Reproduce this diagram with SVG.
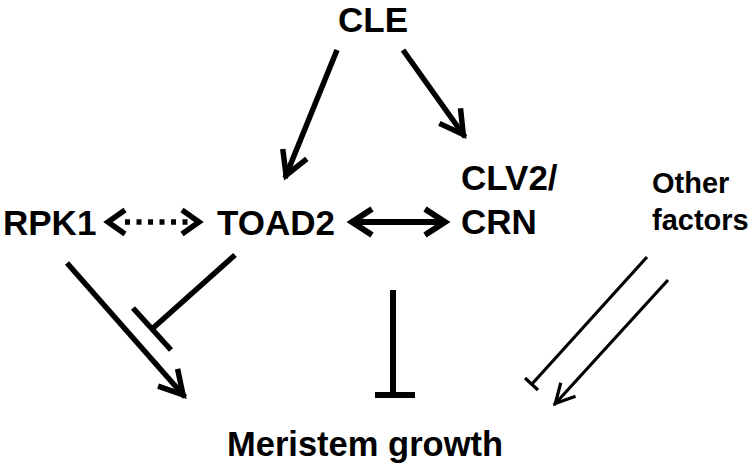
<svg xmlns="http://www.w3.org/2000/svg" width="752" height="471" viewBox="0 0 752 471">
<style>
text{font-family:"Liberation Sans",Arial,sans-serif;font-weight:bold;fill:#000}
.thick{stroke:#000;stroke-width:5.5;fill:none}
.thin{stroke:#000;stroke-width:3.2;fill:none}
.med{stroke:#000;stroke-width:6;fill:none}
</style>
<defs>
<marker id="ahBig" viewBox="-30 -20 40 40" refX="3" refY="0" markerWidth="40" markerHeight="40" markerUnits="userSpaceOnUse" orient="auto">
<path d="M-23,-13 L0,0 L-23,13" fill="none" stroke="#000" stroke-width="5.5"/>
</marker>
<marker id="ahThin" viewBox="-30 -20 40 40" refX="2" refY="0" markerWidth="40" markerHeight="40" markerUnits="userSpaceOnUse" orient="auto">
<path d="M-19,-10 L0,0 L-19,10" fill="none" stroke="#000" stroke-width="3.2"/>
</marker>
</defs>
<rect width="752" height="471" fill="#fff"/>
<g id="CLE"><text x="338" y="32" font-size="35">CLE</text></g>
<g id="RPK1"><text x="3" y="235" font-size="35">RPK1</text></g>
<g id="TOAD2"><text x="217" y="235" font-size="35">TOAD2</text></g>
<g id="CLV2"><text font-size="35"><tspan x="461" y="190">CLV2/</tspan><tspan x="461" y="234">CRN</tspan></text></g>
<g id="Other"><text font-size="29"><tspan x="652" y="193">Other</tspan><tspan x="652" y="230">factors</tspan></text></g>
<g id="Meristem"><text x="227" y="456" font-size="34.5">Meristem growth</text></g>
<g id="connectors">
<line class="thick" x1="337" y1="50" x2="285" y2="178" marker-end="url(#ahBig)"/>
<line class="thick" x1="403" y1="50" x2="465" y2="137" marker-end="url(#ahBig)"/>
<path class="thick" d="M125,210 L108,222 L125,234"/>
<path class="thick" d="M182,210 L199,222 L182,234"/>
<line class="thick" x1="125" y1="222" x2="190" y2="222" stroke-dasharray="5 6.5"/>
<path class="med" d="M372,209 L352,222 L372,235"/>
<path class="med" d="M425,209 L445,222 L425,235"/>
<line class="med" x1="354" y1="222" x2="443" y2="222"/>
<line class="thick" x1="67" y1="263" x2="185" y2="397" marker-end="url(#ahBig)"/>
<line class="thick" x1="235" y1="255" x2="152" y2="329"/>
<line class="thick" x1="133" y1="308" x2="171" y2="350"/>
<line class="med" x1="393" y1="290" x2="393" y2="395"/>
<line class="med" x1="375" y1="395" x2="415" y2="395"/>
<line class="thin" x1="647" y1="257" x2="532" y2="384"/>
<line class="thin" x1="525" y1="378" x2="538" y2="390"/>
<line class="thin" x1="668" y1="280" x2="554" y2="405" marker-end="url(#ahThin)"/>
</g>
</svg>
